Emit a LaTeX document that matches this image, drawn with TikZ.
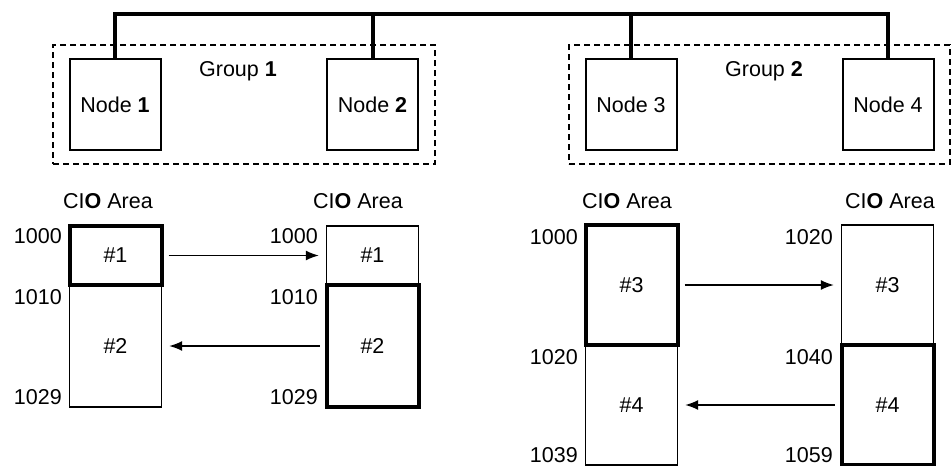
\documentclass[tikz,border=0pt]{standalone}
\usepackage{fontspec}
\setmainfont{Liberation Sans}
\usetikzlibrary{arrows.meta}
\usetikzlibrary{positioning}

\tikzset{
  netnode/.style={draw, line width=2pt, minimum width=91pt, minimum height=91pt, inner sep=0pt},
  grpbox/.style={draw, dash pattern=on 6pt off 4pt, line width=1.5pt, inner sep=0pt},
  memthin/.style={draw, line width=1.3pt, minimum width=92pt, inner sep=0pt},
  memthick/.style={draw, line width=4pt, minimum width=92pt, inner sep=0pt},
  bus/.style={line width=4pt},
  copyarrow/.style={line width=1.6pt, -{Latex[length=13pt,width=10pt]}, shorten <=5pt, shorten >=7pt},
  addr/.style={anchor=east, inner sep=0pt},
}

\begin{document}
\begin{tikzpicture}[x=1pt, y=-1pt, font=\fontsize{21.5}{26}\selectfont]
\useasboundingbox (0,0) rectangle (951,466);

% Groups (dashed)
\node[grpbox, minimum width=382pt, minimum height=119pt] (grp1) at (244,104.5) {};
\node[grpbox, minimum width=381pt, minimum height=119pt] (grp2) at (759.5,104.5) {};
\node (grp1lbl) at (238,71) {Group \textbf{1}};
\node (grp2lbl) at (764,71) {Group \textbf{2}};

% Network nodes
\node[netnode] (n1) at (115,104.5) {Node \textbf{1}};
\node[netnode] (n2) at (372.5,104.5) {Node \textbf{2}};
\node[netnode] (n3) at (631,104.5) {Node 3};
\node[netnode] (n4) at (888,104.5) {Node 4};

% Bus
\coordinate (busy) at (0,14);
\draw[bus] (n1.north) |- (n4.north |- busy) -- (n4.north);
\draw[bus] (n2.north) -- (n2.north |- busy);
\draw[bus] (n3.north) -- (n3.north |- busy);

% CIO area titles
\node (cio1) at (108,201) {CI\textbf{O} Area};
\node (cio2) at (358,201) {CI\textbf{O} Area};
\node (cio3) at (627,201) {CI\textbf{O} Area};
\node (cio4) at (890,201) {CI\textbf{O} Area};

% Memory blocks, group 1
\node[memthin, minimum height=122pt] (a2) at (115.5,346) {\#2};
\node[memthick, minimum height=59pt] (a1) at (115.5,255.5) {\#1};
\node[memthin, minimum height=59pt] (b1) at (372.5,255.5) {\#1};
\node[memthick, minimum height=122pt] (b2) at (372.5,346) {\#2};

% Memory blocks, group 2
\node[memthin, minimum height=120pt] (c2) at (631.5,405) {\#4};
\node[memthick, minimum height=120pt] (c1) at (631.5,285) {\#3};
\node[memthin, minimum height=120pt] (d1) at (887.5,285) {\#3};
\node[memthick, minimum height=120pt] (d2) at (887.5,405) {\#4};

% Addresses
\node[addr] (a1top) at (62,236) {1000};
\node[addr] (a2top) at (62,297) {1010};
\node[addr] (a2bot) at (62,397) {1029};
\node[addr] (b1top) at (318,236) {1000};
\node[addr] (b2top) at (318,297) {1010};
\node[addr] (b2bot) at (318,397) {1029};
\node[addr] (c1top) at (578,237) {1000};
\node[addr] (c2top) at (578,357) {1020};
\node[addr] (c2bot) at (578,455) {1039};
\node[addr] (d1top) at (833,237) {1020};
\node[addr] (d2top) at (833,357) {1040};
\node[addr] (d2bot) at (833,455) {1059};

% Data links
\draw[copyarrow] (a1.east) -- (b1.west);
\draw[copyarrow] (b2.west) -- (a2.east);
\draw[copyarrow] (c1.east) -- (d1.west);
\draw[copyarrow] (d2.west) -- (c2.east);
\end{tikzpicture}
\end{document}
